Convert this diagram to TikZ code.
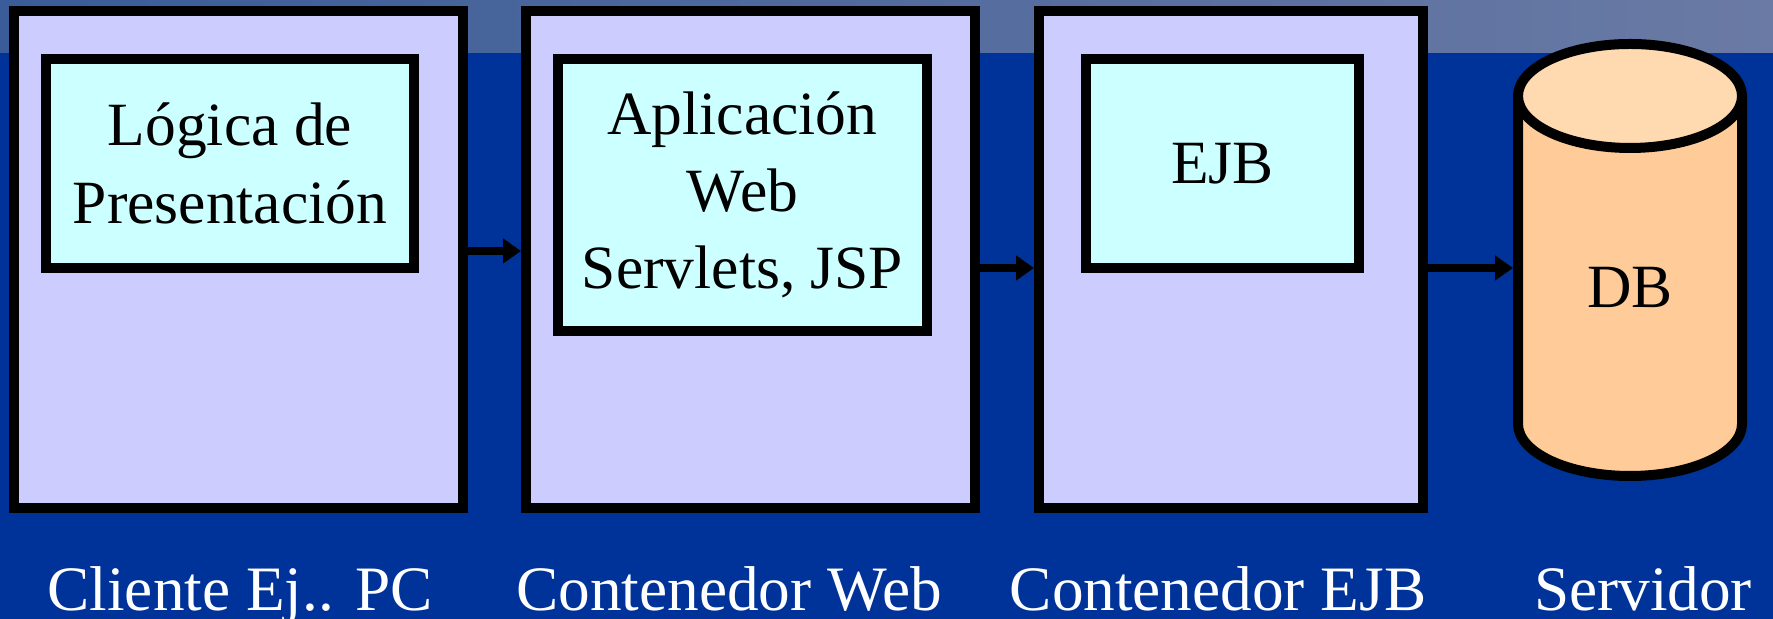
\documentclass[tikz,border=0pt]{standalone}
\usepackage{fontspec}
\setmainfont{Liberation Serif}
\usetikzlibrary{arrows.meta}
\definecolor{bgblue}{HTML}{003399}
\definecolor{stripleft}{HTML}{3A5C98}
\definecolor{stripright}{HTML}{6A7AA4}
\definecolor{tierfill}{HTML}{CCCCFF}
\definecolor{logicfill}{HTML}{CCFFFF}
\definecolor{dbbody}{HTML}{FFCC99}
\definecolor{dbtop}{HTML}{FFD9AF}
\begin{document}
\begin{tikzpicture}[>={Triangle[length=0.18cm,width=0.24cm]},
		tier/.style={draw,line width=0.1cm,fill=tierfill,inner sep=0pt,minimum height=4.97cm},
		logic/.style={draw,line width=0.1cm,fill=logicfill,inner sep=0pt,align=center,font=\fontsize{17.5}{22}\selectfont},
		tiername/.style={text=white,anchor=base,font=\fontsize{18}{22}\selectfont},
		flow/.style={->,line width=0.08cm}]
		
		\useasboundingbox (0,0) rectangle (17.73,-6.19);
		\fill[bgblue] (0,0) rectangle (17.73,-6.19);
		\shade[left color=stripleft,right color=stripright] (0,0) rectangle (17.73,-0.53);
		
		\node[tier,minimum width=4.49cm] (client) at (2.385,-2.595) {};
		\node[tier,minimum width=4.49cm] (webc) at (7.505,-2.595) {};
		\node[tier,minimum width=3.84cm] (ejbc) at (12.31,-2.595) {};
		
		\node[logic,minimum width=3.68cm,minimum height=2.09cm] (pres) at (2.30,-1.635) {Lógica de\\Presentación};
		\node[logic,minimum width=3.69cm,minimum height=2.72cm] (webapp) at (7.425,-1.95) {Aplicación\\Web\\Servlets, JSP};
		\node[logic,minimum width=2.73cm,minimum height=2.09cm] (ejb) at (12.225,-1.635) {EJB};
		
		% cylinder
		\node[line width=0.1cm,inner sep=0pt,minimum width=2.24cm,minimum height=4.32cm] (db) at (16.30,-2.60) {};
		\path[fill=dbbody,draw=black,line width=0.1cm] (15.18,-0.96) -- (15.18,-4.24) arc[start angle=180,end angle=360,x radius=1.12,y radius=0.52] -- (17.42,-0.96);
		\filldraw[fill=dbtop,line width=0.1cm] (16.30,-0.96) ellipse[x radius=1.12,y radius=0.52];
		\node[font=\fontsize{17.5}{22}\selectfont] (dbname) at (16.30,-2.87) {DB};
		
		\draw[flow] ([yshift=0.85mm]client.east) -- ([yshift=0.85mm]webc.west);
		\draw[flow] ([yshift=-0.85mm]webc.east) -- ([yshift=-0.85mm]ejbc.west);
		\draw[flow] ([yshift=-0.85mm]ejbc.east) -- ([yshift=-0.85mm]ejbc.east -| db.west);
		
		\node[tiername] (lclient) at (2.40,-6.11) {Cliente Ej.. PC};
		\node[tiername] (lweb) at (7.29,-6.11) {Contenedor Web};
		\node[tiername] (lejb) at (12.18,-6.11) {Contenedor EJB};
		\node[tiername] (lserver) at (16.43,-6.11) {Servidor};
\end{tikzpicture}
\end{document}
